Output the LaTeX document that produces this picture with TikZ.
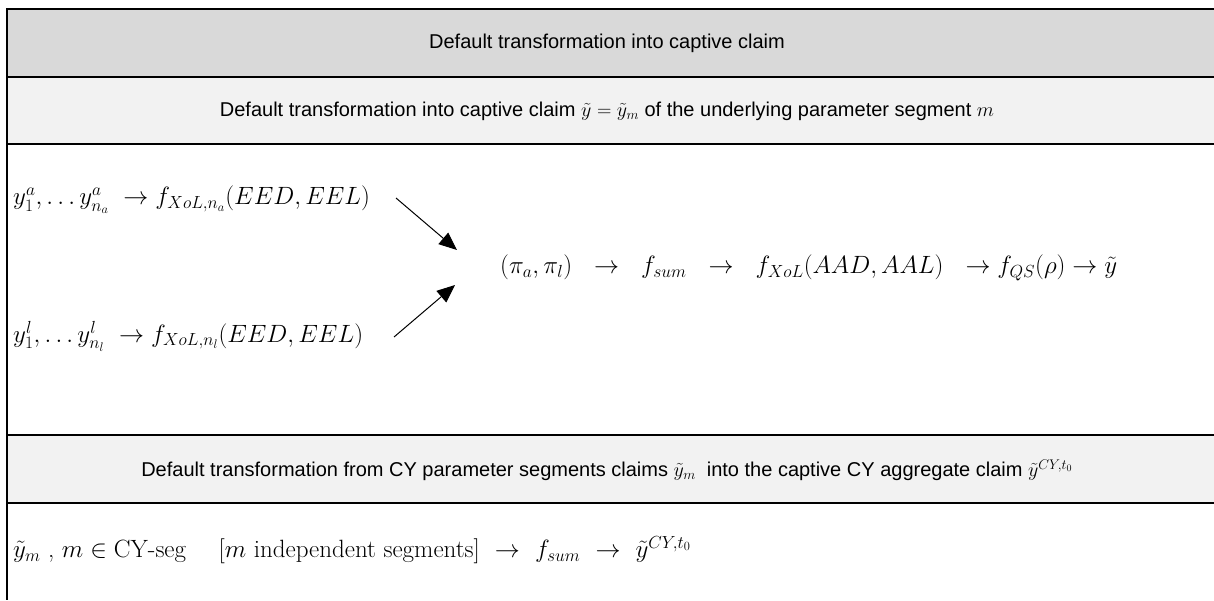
\RequirePackage{fix-cm}
\documentclass[tikz,border=0pt]{standalone}
\usepackage{fontspec}
\newfontfamily\arial{Liberation Sans}
\usetikzlibrary{arrows.meta}
\definecolor{hdr}{HTML}{D9D9D9}
\definecolor{subc}{HTML}{F2F2F2}
\begin{document}
\begin{tikzpicture}[x=1pt,y=-1pt,
  hdtext/.style={font=\arial\fontsize{20}{24}\selectfont, inner sep=0pt},
  mtext/.style={font=\fontsize{25}{29}\selectfont, inner sep=0pt},
  rule/.style={line width=2pt},
  thinrule/.style={line width=1.6pt},
  conn/.style={line width=1pt, -{Triangle[length=18pt,width=15pt]}}]
\useasboundingbox (0,0) rectangle (1214,600);
\fill[hdr] (7,9) rectangle (1214,77);
\fill[subc] (7,77) rectangle (1214,144);
\fill[subc] (7,435) rectangle (1214,503);
\draw[rule] (7,9) -- (1214,9);
\draw[rule] (7,77) -- (1214,77);
\draw[thinrule] (7,144) -- (1214,144);
\draw[rule] (7,435) -- (1214,435);
\draw[thinrule] (7,503) -- (1214,503);
\draw[rule] (7,8) -- (7,600);
\node[hdtext] (h1) at (607,43) {Default transformation into captive claim};
\node[hdtext] (h2) at (607,111) {Default transformation into captive claim $\tilde y=\tilde y_m$ of the underlying parameter segment $m$};
\node[mtext, anchor=west] (fa) at (13,200) {$y_1^a,\ldots y_{n_a}^a\ \to f_{XoL,n_a}(EED,EEL)$};
\node[mtext, anchor=west] (fl) at (13,336) {$y_1^l,\ldots y_{n_l}^l\ \to f_{XoL,n_l}(EED,EEL)$};
\node[mtext, anchor=west] (mid) at (500,268) {$(\pi_a,\pi_l)\ \ \to\ \ f_{sum}\ \ \to\ \ f_{XoL}(AAD,AAL)\ \ \to f_{QS}(\rho)\to\tilde y$};
\coordinate (a1s) at (396,198);
\coordinate (a1e) at (457,250);
\coordinate (a2s) at (394,337);
\coordinate (a2e) at (455,285);
\draw[conn] (a1s) -- (a1e);
\draw[conn] (a2s) -- (a2e);
\node[hdtext] (h4) at (607,470) {Default transformation from CY parameter segments claims $\tilde y_m$\ \ into the captive CY aggregate claim $\tilde y^{CY,t_0}$};
\node[mtext, anchor=west] (f5) at (13,550) {$\tilde y_m$ , $m\in{}$CY-seg\quad\ [$m$ independent segments]\ \ $\to$\ \ $f_{sum}$\ \ $\to$\ \ $\tilde y^{CY,t_0}$};
\end{tikzpicture}
\end{document}
